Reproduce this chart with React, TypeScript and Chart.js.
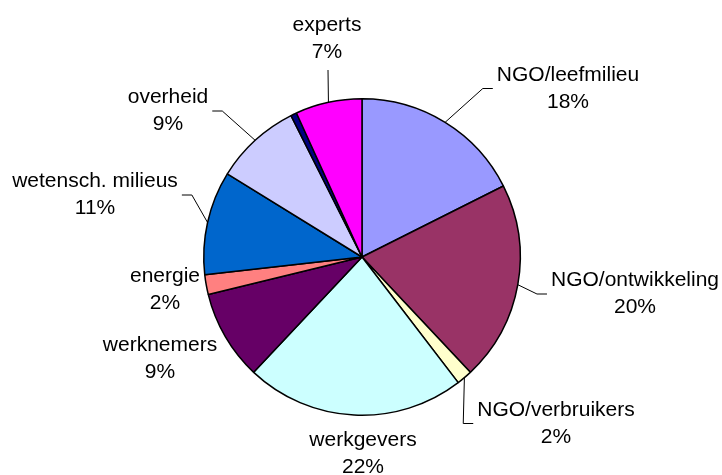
import React, { useEffect, useRef } from "react";
import { Chart, registerables } from "chart.js";

Chart.register(...registerables);

const categories = [
  "NGO/leefmilieu",
  "NGO/ontwikkeling",
  "NGO/verbruikers",
  "werkgevers",
  "werknemers",
  "energie",
  "wetensch. milieus",
  "overheid",
  "",
  "experts",
];

const values = [17.6, 20.4, 1.6, 22.4, 9.2, 2.0, 10.6, 8.8, 0.6, 6.8];

const colors = [
  "#9999FF",
  "#993366",
  "#FFFFCC",
  "#CCFFFF",
  "#660066",
  "#FF8080",
  "#0066CC",
  "#CCCCFF",
  "#000080",
  "#FF00FF",
];

// label layout: block centre and which side the leader line attaches to
const labelLayout: ({ cx: number; cy: number; leader: string } | null)[] = [
  { cx: 568, cy: 88.5, leader: "left" },
  { cx: 635, cy: 294, leader: "left" },
  { cx: 556, cy: 423.5, leader: "left" },
  { cx: 363, cy: 454, leader: "none" },
  { cx: 160, cy: 358.5, leader: "none" },
  { cx: 165, cy: 290, leader: "none" },
  { cx: 95, cy: 195, leader: "right" },
  { cx: 168, cy: 111, leader: "right" },
  null,
  { cx: 327, cy: 39, leader: "bottom" },
];

const FONT = '21px "Liberation Sans", Arial, sans-serif';
const LINE_GAP = 13.5;

const labelPlugin = {
  id: "sliceLabels",
  afterDatasetsDraw(chart: any) {
    const ctx = chart.ctx as CanvasRenderingContext2D;
    const meta = chart.getDatasetMeta(0);
    ctx.save();
    ctx.font = FONT;
    ctx.fillStyle = "#000";
    ctx.strokeStyle = "#000";
    ctx.lineWidth = 1;
    meta.data.forEach((arc: any, i: number) => {
      const lay = labelLayout[i];
      if (!lay) return;
      const p = arc.getProps(["x", "y", "startAngle", "endAngle", "outerRadius"], true);
      const mid = (p.startAngle + p.endAngle) / 2;
      const ex = p.x + Math.cos(mid) * p.outerRadius;
      const ey = p.y + Math.sin(mid) * p.outerRadius;
      const l1 = categories[i];
      const l2 = Math.round(values[i]) + "%";
      const w = Math.max(ctx.measureText(l1).width, ctx.measureText(l2).width);
      ctx.beginPath();
      if (lay.leader === "left") {
        const ax = lay.cx - w / 2 - 4;
        ctx.moveTo(ex, ey);
        ctx.lineTo(ax - 10, lay.cy);
        ctx.lineTo(ax, lay.cy);
        ctx.stroke();
      } else if (lay.leader === "right") {
        const ax = lay.cx + w / 2 + 4;
        ctx.moveTo(ex, ey);
        ctx.lineTo(ax + 10, lay.cy);
        ctx.lineTo(ax, lay.cy);
        ctx.stroke();
      } else if (lay.leader === "bottom") {
        ctx.moveTo(ex, ey);
        ctx.lineTo(lay.cx + 1, lay.cy + 31);
        ctx.stroke();
      }
      ctx.textAlign = "center";
      ctx.textBaseline = "middle";
      ctx.fillText(l1, lay.cx, lay.cy - LINE_GAP);
      ctx.fillText(l2, lay.cx, lay.cy + LINE_GAP);
    });
    ctx.restore();
  },
};

export default function App() {
  const ref = useRef<HTMLCanvasElement | null>(null);
  useEffect(() => {
    if (!ref.current) return;
    const chart = new Chart(ref.current, {
      type: "pie",
      data: {
        labels: categories,
        datasets: [
          {
            data: values,
            backgroundColor: colors,
            borderColor: "#000",
            borderWidth: 1.5,
          },
        ],
      },
      options: {
        responsive: false,
        animation: false,
        devicePixelRatio: 1,
        layout: { padding: { left: 203, top: 98, right: 201, bottom: 59 } },
        plugins: {
          legend: { display: false },
          tooltip: { enabled: false },
          title: { display: false },
        },
      },
      plugins: [labelPlugin],
    });
    return () => chart.destroy();
  }, []);
  return (
    <div style={{ position: "absolute", left: 0, top: 0, width: 722, height: 475, background: "#fff" }}>
      <canvas ref={ref} width={722} height={475} style={{ display: "block" }} />
    </div>
  );
}
